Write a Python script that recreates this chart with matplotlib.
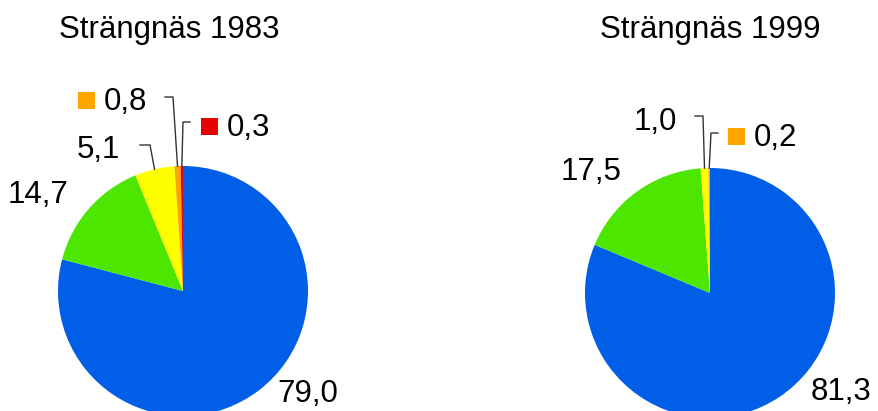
import numpy as np
import matplotlib.pyplot as plt
from matplotlib.patches import Rectangle

plt.rcParams['font.family'] = ['Liberation Sans', 'DejaVu Sans']

W, H = 879, 411

titles = ['Strängnäs 1983', 'Strängnäs 1999']
values_1983 = [79.0, 14.7, 5.1, 0.8, 0.3]
values_1999 = [81.3, 17.5, 1.0, 0.2]
labels_1983 = ['79,0', '14,7', '5,1', '0,8', '0,3']
labels_1999 = ['81,3', '17,5', '1,0', '0,2']
colors = ['#005FE6', '#4CE600', '#FFFF00', '#FFA500', '#E60000']

FS = 22.5
DY = 2  # va='center' sits a bit high for digits

fig = plt.figure(figsize=(W / 100, H / 100), dpi=100)
ax = fig.add_axes([0, 0, 1, 1])
ax.set_xlim(0, W)
ax.set_ylim(0, H)
ax.set_aspect('equal')
ax.axis('off')


def py(y):
    return H - y


def midpoint(vals, i, cx, cy, r):
    cum = np.cumsum(vals)
    frac = (cum[i] - vals[i] / 2) / np.sum(vals)
    th = np.deg2rad(90 - 360 * frac)
    return cx + r * np.cos(th), cy + r * np.sin(th)


def draw(vals, labs, cx, cy, r, title, tx, place):
    ax.pie(vals, colors=colors[:len(vals)], startangle=90, counterclock=False,
           center=(cx, py(cy)), radius=r, frame=True,
           wedgeprops=dict(linewidth=0))
    ax.text(tx, py(28 + DY), title, fontsize=FS, ha='center', va='center')
    for i, p in enumerate(place):
        kind = p[0]
        lx, ly = p[1], p[2]
        if kind == 'plain':
            ax.text(lx, py(ly + DY), labs[i], fontsize=FS, ha='left', va='center')
        else:
            # leader line: elbow + drop to wedge edge
            ex, ey = midpoint(vals, i, cx, py(cy), r)
            hx0, hx1, hy = p[3], p[4], p[5]
            ax.plot([hx0, hx1, ex], [py(hy), py(hy), ey], color='#333333', lw=1)
            if kind == 'key':
                ax.add_patch(Rectangle((lx, py(ly) - 8.5), 17, 17, color=colors[i], lw=0))
                ax.text(lx + 26, py(ly + DY), labs[i], fontsize=FS, ha='left', va='center')
            else:
                ax.text(lx, py(ly + DY), labs[i], fontsize=FS, ha='left', va='center')


draw(values_1983, labels_1983, 183, 291, 125, titles[0], 169,
     [('plain', 277, 392),
      ('plain', 8, 193),
      ('line', 77, 148, 140, 150, 145),
      ('key', 78, 100, 165, 173, 97),
      ('key', 201, 126, 190, 183, 122)])

draw(values_1999, labels_1999, 710, 293, 125, titles[1], 710,
     [('plain', 811, 390),
      ('plain', 561, 170),
      ('line', 634, 120, 695, 703, 116),
      ('key', 728, 136, 718, 711, 133)])

ax.set_xlim(0, W)
ax.set_ylim(0, H)
ax.axis('off')

fig.savefig('out.png', dpi=100)
